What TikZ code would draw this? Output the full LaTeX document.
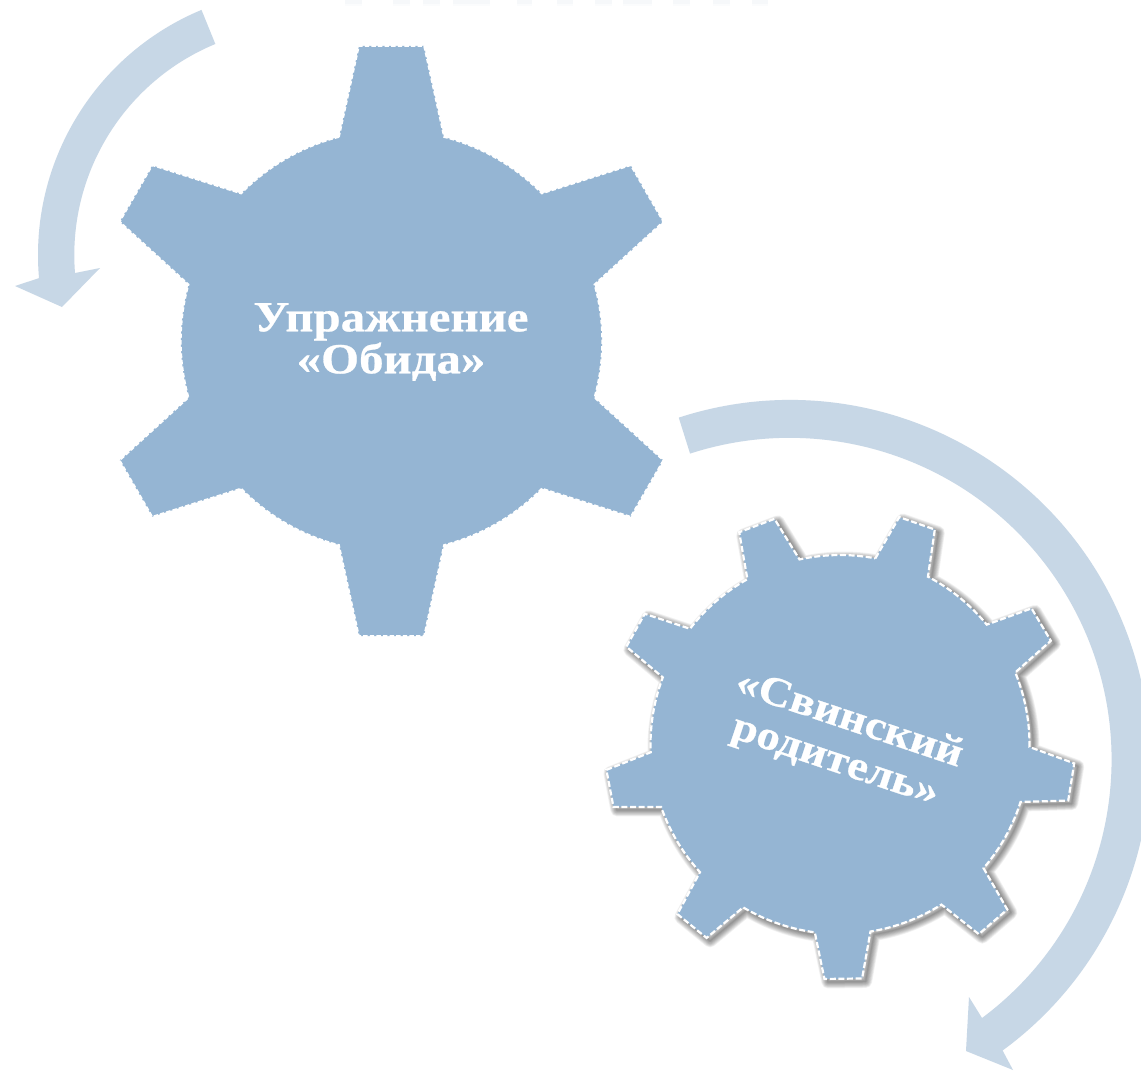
\documentclass[tikz,border=0pt]{standalone}
\usepackage{fontspec}
\setmainfont{Liberation Serif}
\newfontfamily\gearfont[FakeStretch=1.137,FakeBold=0.6]{Liberation Serif Bold}
\definecolor{gearblue}{HTML}{95B5D3}
\definecolor{arrowblue}{HTML}{C7D7E6}
\definecolor{ghostone}{HTML}{F6F8FA}
\definecolor{ghosttwo}{HTML}{FBFCFD}
\tikzset{
  geartext/.style={text=white,align=center,inner sep=0pt,font=\gearfont},
  arrowshape/.style={fill=arrowblue,draw=none},
}
\begin{document}
\begin{tikzpicture}[x=1pt,y=1pt,yscale=-1]
\useasboundingbox (0,0) rectangle (1141,1071);
\fill[white] (0,0) rectangle (1141,1071);

% faint cut-off marks at the top edge
\foreach \a/\b in {345/362,393/410,423/440,453/490,517/532,557/573,595/612,623/652,673/690,713/730,752/768}{
  \fill[ghosttwo] (\a,0) rectangle (\b,6);
  \fill[ghostone] (\a,0) rectangle (\b,3.5);
}

% arrows
\fill[arrowshape] (303.5,255) ++(247.4:265.5pt) arc[start angle=247.4,end angle=175,radius=265.5pt]
  -- (15,286) -- (62,307) -- (100,268) -- (75,273)
  arc[start angle=175.5,end angle=247.5,radius=228.5pt] -- cycle;
\fill[arrowshape] (790,760) ++(-108:360pt) arc[start angle=-108,end angle=53.8,radius=360pt]
  -- (1013,1070) -- (966,1051) -- (969,997) -- (982,1018)
  arc[start angle=53.3,end angle=-108,radius=322pt] -- cycle;

% gear 1
\def\gearone{
  (391.5,341) ++(-90-14.43:210.6pt)
  \foreach \k in {0,...,5}{
    -- ([shift={(391.5,341)}]-90+60*\k-6.29:296.8pt)
    -- ([shift={(391.5,341)}]-90+60*\k+6.29:296.8pt)
    -- ([shift={(391.5,341)}]-90+60*\k+14.43:210.6pt)
    arc[start angle=-90+60*\k+14.43,end angle=-90+60*\k+60-14.43,radius=210.6pt]
  } -- cycle}
\fill[gearblue,draw=white,line width=1.6pt,dash pattern=on 4.4pt off 2.2pt] \gearone;

% gear 2
\def\geartwo{
  (840,744.5) ++(-90+19.2-8.45:189.5pt)
  \foreach \k in {0,...,8}{
    -- ([shift={(840,744.5)}]-90+19.2+40*\k-4.6:235pt)
    -- ([shift={(840,744.5)}]-90+19.2+40*\k+4.6:235pt)
    -- ([shift={(840,744.5)}]-90+19.2+40*\k+8.45:189.5pt)
    arc[start angle=-90+19.2+40*\k+8.45,end angle=-90+19.2+40*\k+40-8.45,radius=189.5pt]
  } -- cycle}
\begin{scope}[shift={(3.5,3)}]
  \foreach \w in {13,11.5,10,8.5,7,5.5,4,2.5,1}{
    \draw[black,opacity=.055,line width=\w pt,line join=round] \geartwo;
  }
\end{scope}
\fill[gearblue] \geartwo;
\draw[white,line width=2.2pt,dash pattern=on 6pt off 2.6pt] \geartwo;

% labels
\node[geartext,font=\gearfont\fontsize{43}{42}\selectfont] (g1) at (391,342) {Упражнение\\«Обида»};
\node[geartext,font=\gearfont\fontsize{41}{44}\selectfont,rotate=-18.5] (g2) at (842,741) {«Свинский\\родитель»};
\end{tikzpicture}
\end{document}
